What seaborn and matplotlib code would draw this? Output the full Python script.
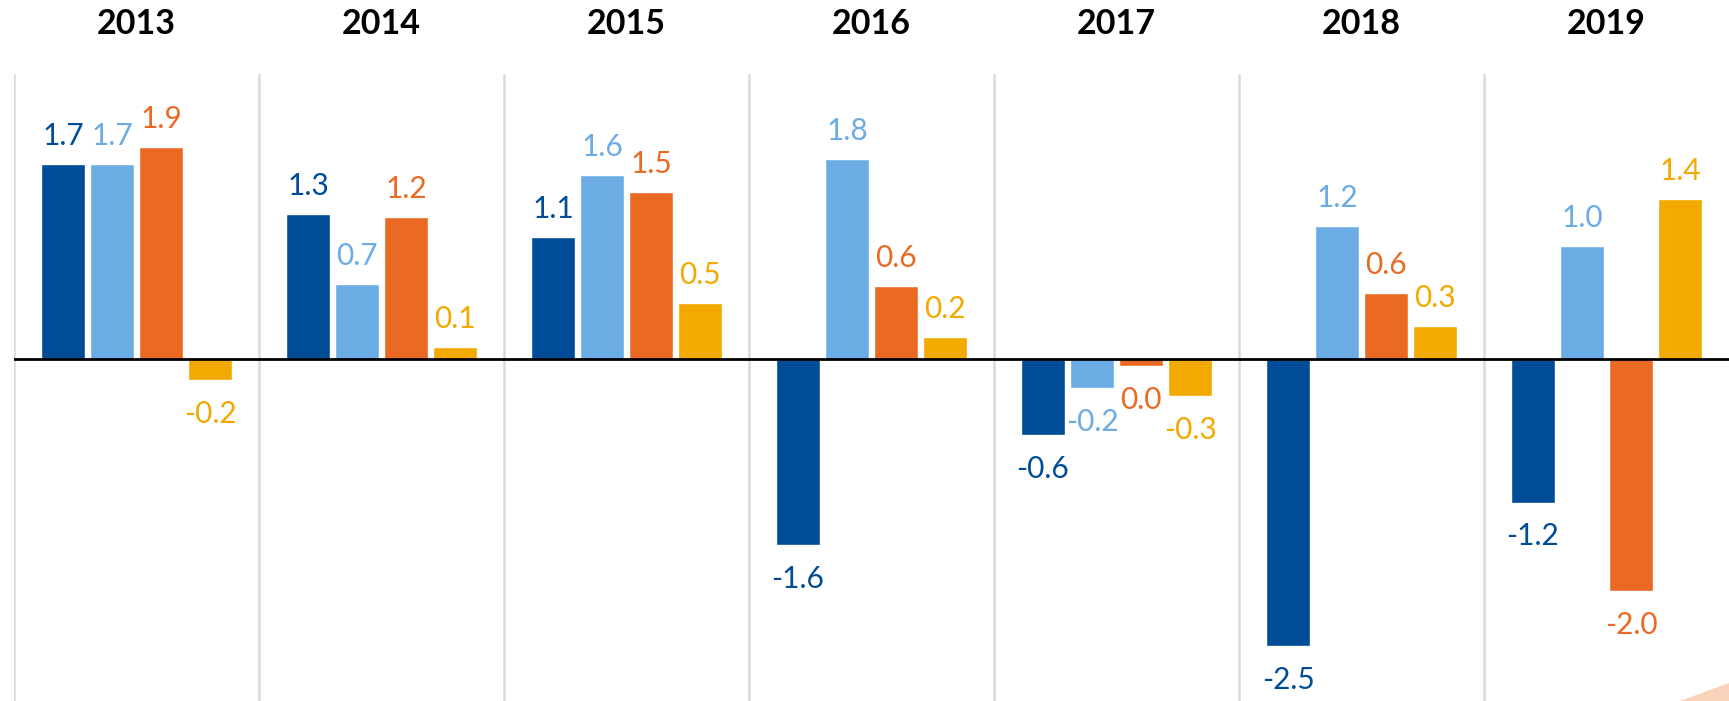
import numpy as np
import pandas as pd
import matplotlib
matplotlib.use("Agg")
import matplotlib.pyplot as plt
import seaborn as sns
from matplotlib.patches import Polygon

years = ["2013", "2014", "2015", "2016", "2017", "2018", "2019"]
series = ["s1", "s2", "s3", "s4"]

s1_values = [1.70, 1.27, 1.07, -1.62, -0.66, -2.50, -1.25]
s2_values = [1.70, 0.66, 1.61, 1.75, -0.25, 1.16, 0.99]
s3_values = [1.85, 1.24, 1.46, 0.64, -0.06, 0.58, -2.02]
s4_values = [-0.18, 0.11, 0.49, 0.20, -0.32, 0.29, 1.40]

s1_labels = ["1.7", "1.3", "1.1", "-1.6", "-0.6", "-2.5", "-1.2"]
s2_labels = ["1.7", "0.7", "1.6", "1.8", "-0.2", "1.2", "1.0"]
s3_labels = ["1.9", "1.2", "1.5", "0.6", "0.0", "0.6", "-2.0"]
s4_labels = ["-0.2", "0.1", "0.5", "0.2", "-0.3", "0.3", "1.4"]

colors = ["#004C97", "#6CACE4", "#EB6A23", "#F2A900"]

all_values = [s1_values, s2_values, s3_values, s4_values]
all_labels = [s1_labels, s2_labels, s3_labels, s4_labels]

rows = []
for name, vals in zip(series, all_values):
    for yr, v in zip(years, vals):
        rows.append({"year": yr, "series": name, "value": v})
df = pd.DataFrame(rows)

sns.set_style("white")
plt.rcParams["font.family"] = ["Lato", "DejaVu Sans"]

W, H = 1729, 701
fig = plt.figure(figsize=(W / 100, H / 100), dpi=100)
ax = fig.add_axes([14 / W, 0, 1715 / W, 627 / H])

sns.barplot(data=df, x="year", y="value", hue="series", hue_order=series,
            order=years, palette=colors, width=0.8, gap=0.12, saturation=1,
            errorbar=None, legend=False, ax=ax, zorder=2)

ax.set_xlim(-0.5, 6.5)
ax.set_ylim(-2.975, 2.487)

for k in range(len(years)):
    ax.axvline(k - 0.5, color="#D9D9D9", lw=1.8, zorder=0)
ax.axhline(0, color="black", lw=2, zorder=3)

for cont, labs, col in zip(ax.containers, all_labels, colors):
    for bar, lab in zip(cont, labs):
        h = bar.get_height()
        x = bar.get_x() + bar.get_width() / 2
        if h >= 0:
            ax.annotate(lab, (x, h), xytext=(0, 10), textcoords="offset points",
                        ha="center", va="bottom", fontsize=21.5, color=col)
        else:
            ax.annotate(lab, (x, h), xytext=(0, -14), textcoords="offset points",
                        ha="center", va="top", fontsize=21.5, color=col)

for i, yr in enumerate(years):
    ax.text(i, 1 + 50 / 627, yr, transform=ax.get_xaxis_transform(),
            ha="center", va="center", fontsize=24.5, fontweight="bold", color="black")

ax.set_xlabel("")
ax.set_ylabel("")
ax.set_xticks([])
ax.set_yticks([])
for sp in ax.spines.values():
    sp.set_visible(False)

# peach corner shape from the slide background
fig.patches.append(Polygon([[1680 / W, 0], [1.0, 0], [1.0, 18 / H]], closed=True,
                           transform=fig.transFigure, facecolor="#FBD3BC",
                           edgecolor="none"))

fig.savefig("out.png", dpi=100)
